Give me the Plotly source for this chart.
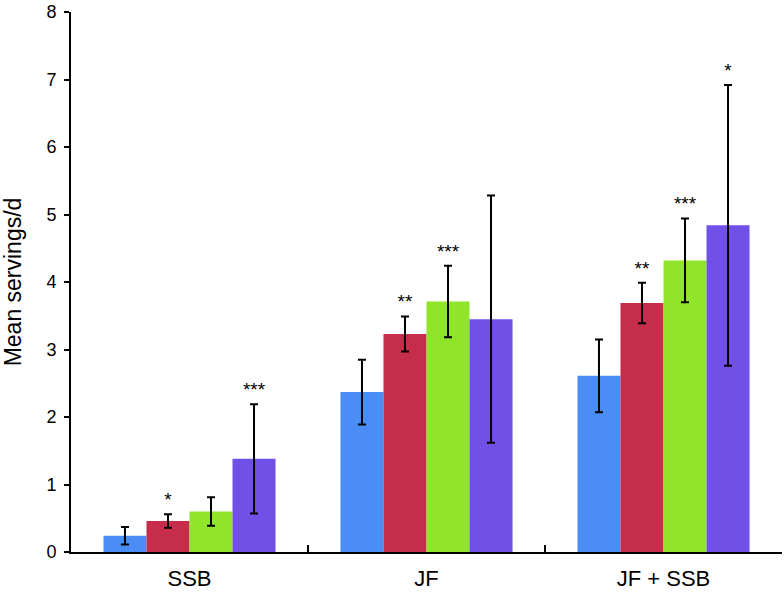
import plotly.graph_objects as go

categories = ["SSB", "JF", "JF + SSB"]
series_names = ["Group 1", "Group 2", "Group 3", "Group 4"]
colors = ["#4a8ef5", "#c52d4b", "#90e52b", "#7150e8"]

means = [
    [0.24, 2.37, 2.61],
    [0.46, 3.23, 3.69],
    [0.60, 3.71, 4.32],
    [1.38, 3.45, 4.84],
]
errors = [
    [0.13, 0.48, 0.54],
    [0.10, 0.26, 0.30],
    [0.21, 0.53, 0.62],
    [0.81, 1.83, 2.08],
]
stars = [
    ["", "", ""],
    ["*", "**", "**"],
    ["", "***", "***"],
    ["***", "", "*"],
]

FONT = "Liberation Sans, Arial, Helvetica, sans-serif"
STAR_LIFT = 0.05

fig = go.Figure()
for i in range(4):
    fig.add_trace(go.Bar(
        x=categories, y=means[i], name=series_names[i],
        marker=dict(color=colors[i], line=dict(width=0)),
        offsetgroup=str(i),
        error_y=dict(type="data", array=errors[i], color="black", thickness=2, width=4),
        showlegend=False,
    ))
for i in range(4):
    fig.add_trace(go.Scatter(
        x=categories, y=[m + e + STAR_LIFT for m, e in zip(means[i], errors[i])],
        mode="text", text=stars[i], textposition="top center",
        textfont=dict(size=19, color="black", family=FONT),
        offsetgroup=str(i), showlegend=False, hoverinfo="skip",
    ))

fig.update_layout(
    width=784, height=593,
    margin=dict(l=71, r=2, t=12, b=39),
    paper_bgcolor="white", plot_bgcolor="white",
    barmode="group", bargap=0.274, bargroupgap=0,
    scattermode="group", scattergap=0.274,
    font=dict(family=FONT, size=20, color="black"),
    xaxis=dict(
        type="category", showline=True, linecolor="black", linewidth=2,
        ticks="inside", tickson="boundaries", ticklen=7, tickcolor="black", tickwidth=2,
        showgrid=False, zeroline=False, tickfont=dict(size=22), ticklabelstandoff=6,
    ),
    yaxis=dict(
        range=[0, 8], dtick=1, showline=True, linecolor="black", linewidth=2,
        ticks="outside", ticklen=5, tickcolor="black", tickwidth=2,
        showgrid=False, zeroline=False, tickfont=dict(size=18), ticklabelstandoff=4,
        ticklabeloverflow="allow",
        title=dict(text="Mean servings/d", font=dict(size=23), standoff=24),
    ),
)

fig.write_html(
    "out.html",
    config={"displayModeBar": False},
    post_script="document.body.style.margin='0';document.body.style.overflow='hidden';",
)
